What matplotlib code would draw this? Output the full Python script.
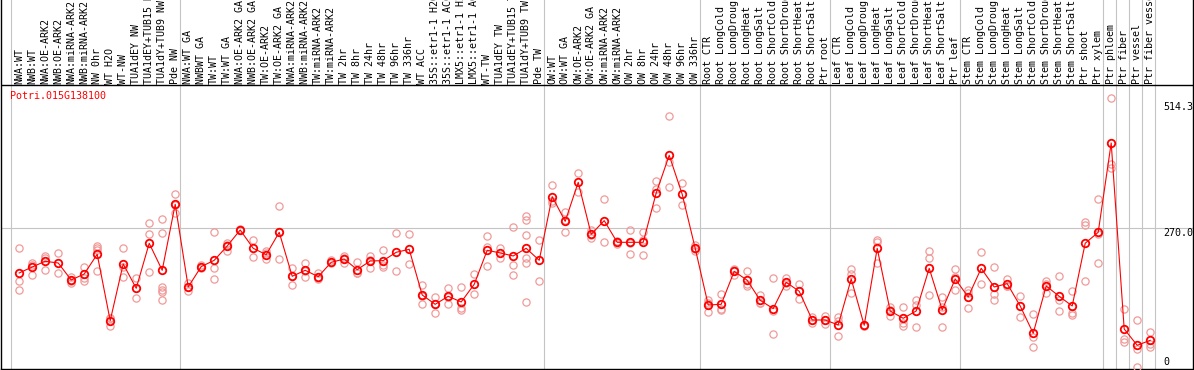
import matplotlib
matplotlib.use("Agg")
import matplotlib.pyplot as plt

gene = "Potri.015G138100"

categories = [
    "NWA:WT", "NWB:WT", "NWA:OE-ARK2", "NWB:OE-ARK2", "NWA:miRNA-ARK2", "NWB:miRNA-ARK2",
    "NW 0hr", "WT H2O", "WT-NW", "TUA1dEY NW", "TUA1dEY+TUB15 NW", "TUA1dY+TUB9 NW", "Pde NW",
    "NWA:WT GA", "NWBWT GA", "TW:WT", "TW:WT GA", "NWA:OE-ARK2 GA", "NWB:OE-ARK2 GA",
    "TW:OE-ARK2", "TW:OE-ARK2 GA", "NWA:miRNA-ARK2 GA", "NWB:miRNA-ARK2 GA", "TW:miRNA-ARK2",
    "TW:miRNA-ARK2", "TW 2hr", "TW 8hr", "TW 24hr", "TW 48hr", "TW 96hr", "TW 336hr", "WT ACC",
    "35S::etr1-1 H2O", "35S::etr1-1 ACC", "LMX5::etr1-1 H2O", "LMX5::etr1-1 ACC", "WT-TW",
    "TUA1dEY TW", "TUA1dEY+TUB15 TW", "TUA1dY+TUB9 TW", "Pde TW",
    "OW:WT", "OW:WT GA", "OW:OE-ARK2", "OW:OE-ARK2 GA", "OW:miRNA-ARK2", "OW:miRNA-ARK2",
    "OW 2hr", "OW 8hr", "OW 24hr", "OW 48hr", "OW 96hr", "OW 336hr",
    "Root CTR", "Root LongCold", "Root LongDrought", "Root LongHeat", "Root LongSalt",
    "Root ShortCold", "Root ShortDrought", "Root ShortHeat", "Root ShortSalt", "Ptr root",
    "Leaf CTR", "Leaf LongCold", "Leaf LongDrought", "Leaf LongHeat", "Leaf LongSalt",
    "Leaf ShortCold", "Leaf ShortDrought", "Leaf ShortHeat", "Leaf ShortSalt", "Ptr leaf",
    "Stem CTR", "Stem LongCold", "Stem LongDrought", "Stem LongHeat", "Stem LongSalt",
    "Stem ShortCold", "Stem ShortDrought", "Stem ShortHeat", "Stem ShortSalt",
    "Ptr shoot", "Ptr xylem", "Ptr phloem", "Ptr fiber", "Ptr vessel", "Ptr fiber vessel",
]

means = [
    182.8, 194.5, 205.6, 202.3, 169.1, 180.8, 219.3, 89.6, 200.4, 152.8, 240.8, 188.0, 317.0,
    155.4, 195.2, 207.5, 235.5, 266.8, 231.0, 218.6, 262.3, 176.3, 188.0, 175.6, 203.6, 210.1,
    189.3, 206.2, 206.9, 223.2, 229.0, 139.8, 121.5, 137.2, 126.1, 160.6, 227.1, 221.9, 216.0,
    231.0, 207.5,
    332.0, 283.7, 360.0, 258.3, 285.1, 242.7, 242.7, 242.7, 339.1, 412.7, 336.5, 231.0,
    120.2, 121.5, 186.0, 168.5, 129.4, 113.1, 164.5, 147.0, 90.9, 90.9,
    81.2, 171.1, 80.5, 231.0, 108.5, 94.2, 108.5, 191.9, 110.5, 171.1,
    135.9, 191.9, 155.4, 161.9, 118.3, 64.9, 157.4, 137.2, 118.3, 240.8, 262.3,
    436.8, 73.3, 41.4, 51.2,
]

replicates = [
    [231.6, 167.1, 149.6], [201.7, 198.4, 178.2], [216.7, 212.7, 188.0], [221.9, 182.8],
    [175.6, 162.6, 167.1], [194.5, 167.1, 172.4], [236.2, 231.6, 227.1, 186.7], [95.5, 78.6, 94.0],
    [231.0, 175.0, 195.0], [172.4, 133.3], [279.8, 258.3, 184.1],
    [288.3, 260.3, 156.1, 149.6, 145.0, 130.0], [337.2, 299.4, 315.0],
    [162.6, 147.6, 156.0], [198.4, 192.0], [262.9, 191.9, 170.4], [242.1, 226.4, 238.0],
    [268.0, 266.0, 266.5], [247.3, 213.4], [225.1, 209.5, 221.0], [313.7, 210.1, 263.0],
    [193.2, 158.7, 177.0], [201.7, 175.6, 186.7], [183.4, 172.4, 171.0], [208.2, 201.7],
    [216.0, 202.3, 212.0], [203.6, 182.1, 182.2], [216.7, 193.2, 208.7], [227.1, 195.2, 198.4],
    [260.3, 186.0], [258.3, 200.4], [158.7, 122.2, 138.5], [135.2, 105.3, 121.5],
    [152.8, 122.2, 136.6], [154.8, 109.8, 113.7], [180.8, 141.1], [255.1, 234.2, 196.5],
    [231.6, 211.4], [272.7, 197.8, 178.2], [294.2, 285.7, 256.4, 211.4, 201.7, 126.1],
    [246.6, 167.1],
    [354.1, 318.9, 323.0], [302.6, 262.3, 286.0], [377.5, 341.7], [266.8, 250.5, 257.6],
    [326.7, 242.7], [239.4, 245.0, 243.7], [266.8, 219.3, 242.0], [262.3, 218.0, 247.8],
    [361.9, 309.2, 346.2], [488.9, 350.2, 399.0], [358.0, 315.0], [237.5, 226.4, 229.1],
    [130.0, 105.9, 124.7], [141.8, 110.5, 112.2], [190.6, 178.9, 188.5], [186.0, 157.4, 162.1],
    [139.8, 123.5, 124.9], [172.4, 108.5, 63.0], [173.7, 157.4, 162.4], [161.3, 131.3, 148.4],
    [96.1, 85.7, 90.9], [98.7, 82.5, 91.5],
    [96.1, 59.0, 88.5], [190.6, 180.8, 143.7], [82.0, 79.5, 80.0], [247.9, 201.7, 243.4],
    [115.7, 98.7, 111.1], [115.7, 84.4, 79.2], [130.0, 120.2, 76.6], [225.1, 211.4, 139.8],
    [135.2, 117.0, 76.6], [189.9, 175.6, 149.6],
    [149.6, 113.7, 143.0], [223.2, 161.3], [194.5, 141.1, 130.0], [171.1, 157.4, 157.2],
    [137.8, 97.4], [102.7, 57.1, 37.5], [167.1, 144.3, 161.0], [177.6, 130.0, 109.2],
    [147.6, 105.3, 100.0], [283.1, 276.6, 167.1], [327.4, 201.7, 258.0],
    [524.1, 395.8, 387.3], [111.8, 53.1, 47.3], [90.9, 0.0, 33.3], [66.8, 44.0, 38.2],
]

group_ends = [12, 40, 52, 62, 72, 83, 84, 85, 86, 87]
ytick_vals = [514.3, 270.0, 0]
ytick_labels = ["514.3", "270.0", "0"]

# ---------------- layout (pixels) ----------------
W, H = 1194, 370
PX_PER_UNIT = 0.5117
Y0_PX = 366.5          # pixel row of value 0
X0_PX, DX_PX = 19.2, 13.0
MONO = "DejaVu Sans Mono"
FS = 7.2

fig = plt.figure(figsize=(W / 100, H / 100), dpi=100)
fig.patch.set_facecolor("white")
ax = fig.add_axes([1 / W, 1 / H, 1192 / W, 369 / H])


def v_at(px_row):
    return (Y0_PX - px_row) / PX_PER_UNIT


ax.set_ylim(v_at(369), v_at(0))
ax.set_xlim((1 - X0_PX) / DX_PX, (1193 - X0_PX) / DX_PX)
ax.set_xticks([])
ax.set_yticks([])
for s in ["left", "right", "bottom"]:
    ax.spines[s].set_linewidth(1.0)
    ax.spines[s].set_color("black")
ax.spines["top"].set_visible(False)

grid_c = "#c4c4c4"
# vertical group separators (full height)
for b in [-1] + group_ends:
    ax.axvline(b + 0.38, color=grid_c, lw=0.8, zorder=1)
# horizontal grid at middle tick
ax.axhline(ytick_vals[1], color=grid_c, lw=0.8, zorder=1)
# header separator
ax.axhline(v_at(85), color="black", lw=1.0, zorder=2)

xs = list(range(len(categories)))

# category labels in header
for x, lab in zip(xs, categories):
    ax.text(x, v_at(83.5), lab, rotation=90, ha="center", va="bottom",
            fontfamily=MONO, fontsize=FS, color="black", clip_on=False)

# replicate points
for x, reps in zip(xs, replicates):
    ax.plot([x] * len(reps), reps, "o", mfc="none", mec="#f09a9a", ms=5.2, mew=0.9,
            zorder=3)

# mean line + markers
ax.plot(xs, means, "-", color="red", lw=0.8, zorder=4)
ax.plot(xs, means, "o", mfc="none", mec="red", ms=5.4, mew=1.3, zorder=5)

# y labels on the right
tx = (1163 - 1) / 1192
offsets = [-3.0, -3.0, 3.5]
for v, lab, off in zip(ytick_vals, ytick_labels, offsets):
    ax.annotate(lab, xy=(tx, v), xycoords=ax.get_yaxis_transform(),
                xytext=(0, off), textcoords="offset points",
                ha="left", va="center", fontfamily=MONO, fontsize=FS, color="black",
                annotation_clip=False)

# gene name
fig.text(10 / W, 1 - 95.7 / H, gene, ha="left", va="center", color="red",
         fontfamily=MONO, fontsize=FS)

fig.savefig("out.png", dpi=100, facecolor="white")
